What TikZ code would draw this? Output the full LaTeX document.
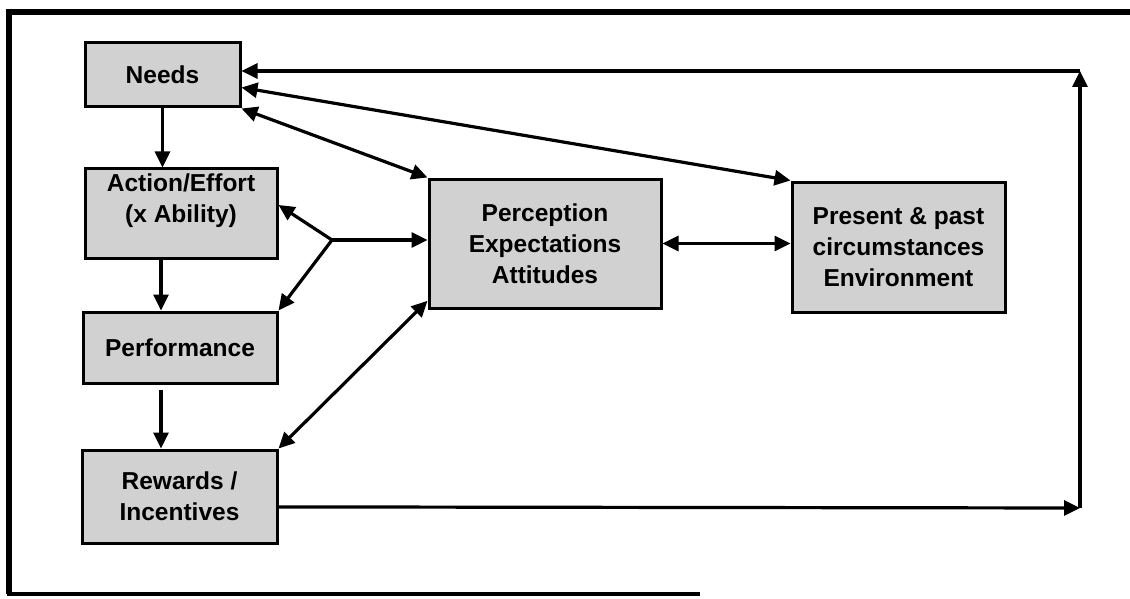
\documentclass[tikz,border=0pt]{standalone}
\usepackage{fontspec}
\setmainfont{Liberation Sans}
\usetikzlibrary{arrows.meta}
\begin{document}
\begin{tikzpicture}[x=1pt,y=-1pt,
  box/.style={draw, line width=3pt, fill=black!18, inner sep=0pt,
    align=center, font=\fontsize{24.5}{31}\selectfont\bfseries},
  link/.style={line width=3.2pt, -{Triangle[length=16pt,width=15pt]}},
  both/.style={line width=3.2pt, {Triangle[length=16pt,width=15pt]}-{Triangle[length=16pt,width=15pt]}}]
\useasboundingbox (0,0) rectangle (1130,599);

% outer frame
\draw[line width=6pt] (1130,12) -- (9,12) -- (9,594);
\draw[line width=3.5pt] (7,594) -- (700,594);

% boxes
\node[box, minimum width=155pt, minimum height=64pt] (needs) at (162.5,75) {Needs};
\node[box, minimum width=192pt, minimum height=89pt] (action) at (181,213.5)
  {Action/Effort\\(x Ability)\\\mbox{}};
\node[box, minimum width=194pt, minimum height=71pt] (perf) at (180,347.5) {Performance};
\node[box, minimum width=195pt, minimum height=93pt] (rewards) at (179.5,496.5)
  {Rewards /\\Incentives};
\node[box, minimum width=232pt, minimum height=129pt] (percep) at (545,243.5)
  {Perception\\Expectations\\Attitudes};
\node[box, minimum width=213pt, minimum height=130pt] (present) at (898.5,247)
  {Present \& past\\circumstances\\Environment};

% helper points
\coordinate (colL) at (161,0);
\coordinate (perfout) at (161,390);
\coordinate (j) at (332,240);
\coordinate (cornerBot) at (1080,508);
\coordinate (cornerTop) at (1080,71);

% vertical chain
\draw[link] (needs.south) -- (needs.south |- action.north);
\draw[link] (action.south -| colL) -- (perf.north -| colL);
\draw[link] (perfout) -- (rewards.north -| colL);

% fork from the perception box
\draw[link] (j) -- (percep.west |- j);
\draw[link] (j) -- (action.5);
\draw[link] (j) -- (perf.north east);

% two-way links
\draw[both] (needs.south east) -- (percep.north west);
\draw[both] (needs.-9.5) -- (present.north west);
\draw[both] (percep.east) -- (percep.east -| present.west);
\draw[both] (percep.206) -- (rewards.north east);

% feedback loop back to needs
\draw[link] (rewards.-6.7) -- (cornerBot);
\draw[link] (cornerBot) -- (cornerTop);
\draw[link] (cornerTop) -- (cornerTop -| needs.east);
\end{tikzpicture}
\end{document}
